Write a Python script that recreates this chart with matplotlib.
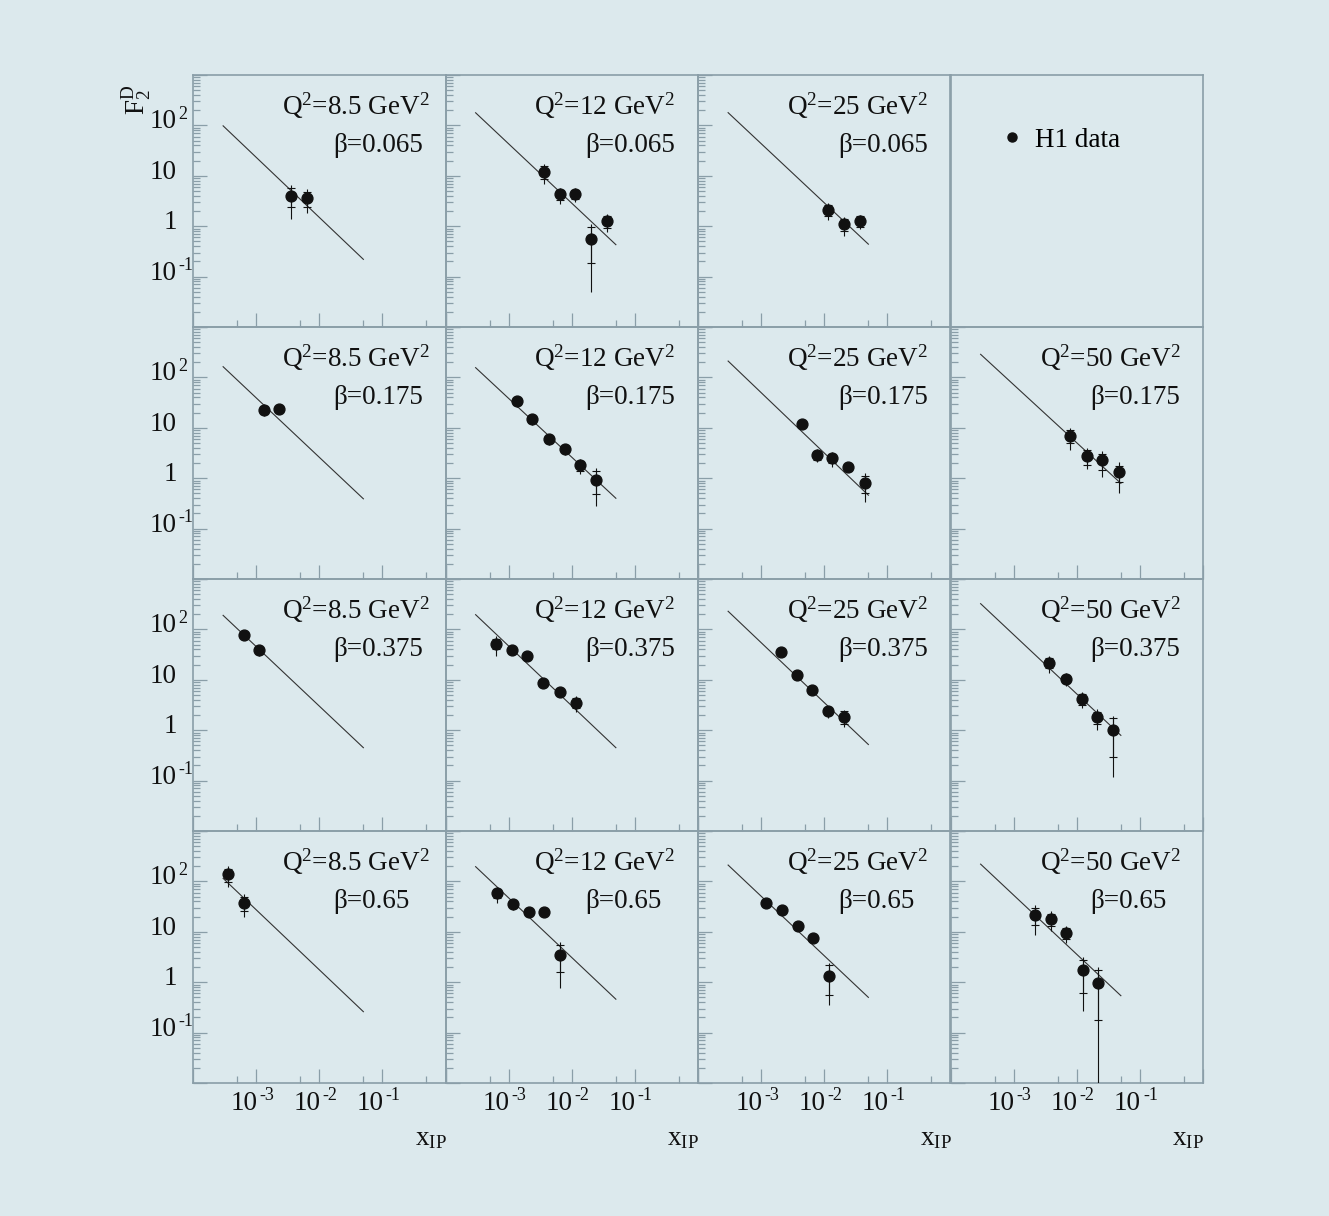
import matplotlib
matplotlib.use('Agg')
import matplotlib.pyplot as plt
from matplotlib.ticker import FixedLocator, LogLocator, NullFormatter
from matplotlib.transforms import ScaledTranslation, blended_transform_factory
from matplotlib.lines import Line2D

plt.rcParams['font.family'] = ['Liberation Serif', 'DejaVu Serif']
plt.rcParams['mathtext.fontset'] = 'custom'
plt.rcParams['mathtext.rm'] = 'Liberation Serif'
plt.rcParams['mathtext.it'] = 'Liberation Serif:italic'

# panel grid: rows = beta, columns = Q^2
q2_text = ['8.5', '12', '25', '50']
beta_text = ['0.065', '0.175', '0.375', '0.65']

# x_IP range of the fitted line
line_x = [3e-4, 5e-2]
# fit value at the two ends, one entry per Q^2 column
line_lo_065 = [98, 178, 179]
line_hi_065 = [0.22, 0.43, 0.44]
line_lo_175 = [163, 156, 211, 287]
line_hi_175 = [0.39, 0.40, 0.46, 0.79]
line_lo_375 = [190, 196, 229, 324]
line_hi_375 = [0.45, 0.45, 0.52, 0.79]
line_lo_650 = [115, 196, 211, 220]
line_hi_650 = [0.26, 0.46, 0.50, 0.54]

# H1 points: x_IP, F2D(3), stat error, total error
# beta = 0.065
x_065_85 = [3.6e-3, 6.4e-3]
f2_065_85 = [4.0, 3.6]
st_065_85 = [1.6, 1.2]
tot_065_85 = [2.6, 1.8]

x_065_12 = [3.63e-3, 6.46e-3, 1.12e-2, 2.04e-2, 3.63e-2]
f2_065_12 = [12.0, 4.3, 4.3, 0.57, 1.27]
st_065_12 = [3.5, 1.0, 0.9, 0.38, 0.35]
tot_065_12 = [5.0, 1.5, 1.3, 0.52, 0.5]

x_065_25 = [1.15e-2, 2.04e-2, 3.7e-2]
f2_065_25 = [2.1, 1.09, 1.27]
st_065_25 = [0.5, 0.3, 0.3]
tot_065_25 = [0.75, 0.45, 0.4]

# beta = 0.175
x_175_85 = [1.35e-3, 2.34e-3]
f2_175_85 = [23, 23.5]
st_175_85 = [4, 3]
tot_175_85 = [6, 4]

x_175_12 = [1.35e-3, 2.34e-3, 4.3e-3, 7.7e-3, 1.36e-2, 2.42e-2]
f2_175_12 = [33.5, 15, 6.0, 3.85, 1.8, 0.93]
st_175_12 = [5, 2.5, 1.0, 0.6, 0.4, 0.45]
tot_175_12 = [7.5, 3.5, 1.5, 0.9, 0.6, 0.65]

x_175_25 = [4.4e-3, 7.8e-3, 1.34e-2, 2.42e-2, 4.4e-2]
f2_175_25 = [12, 2.9, 2.5, 1.67, 0.81]
st_175_25 = [1.5, 0.6, 0.5, 0.25, 0.3]
tot_175_25 = [2.0, 0.85, 0.8, 0.35, 0.47]

x_175_50 = [7.9e-3, 1.43e-2, 2.5e-2, 4.6e-2]
f2_175_50 = [6.9, 2.75, 2.27, 1.31]
st_175_50 = [2, 0.9, 0.8, 0.45]
tot_175_50 = [3.2, 1.2, 1.2, 0.8]

# beta = 0.375
x_375_85 = [6.46e-4, 1.12e-3]
f2_375_85 = [78.5, 38.5]
st_375_85 = [10, 6]
tot_375_85 = [15, 9]

x_375_12 = [6.4e-4, 1.13e-3, 1.98e-3, 3.5e-3, 6.4e-3, 1.15e-2]
f2_375_12 = [52, 38.5, 29.7, 8.8, 5.7, 3.5]
st_375_12 = [12, 4, 3, 1.3, 0.8, 0.8]
tot_375_12 = [22, 6, 4, 2.0, 1.0, 1.2]

x_375_25 = [2.06e-3, 3.69e-3, 6.5e-3, 1.15e-2, 2.06e-2]
f2_375_25 = [35.6, 12.6, 6.2, 2.37, 1.85]
st_375_25 = [3, 1.0, 0.5, 0.4, 0.5]
tot_375_25 = [4, 1.5, 0.8, 0.6, 0.7]

x_375_50 = [3.63e-3, 6.7e-3, 1.19e-2, 2.1e-2, 3.77e-2]
f2_375_50 = [21.8, 10.5, 4.2, 1.83, 1.02]
st_375_50 = [5, 2, 1, 0.5, 0.72]
tot_375_50 = [8, 3, 1.4, 0.8, 0.9]

# beta = 0.65
x_650_85 = [3.63e-4, 6.5e-4]
f2_650_85 = [138, 37.8]
st_650_85 = [40, 12]
tot_650_85 = [62, 18]

x_650_12 = [6.5e-4, 1.17e-3, 2.07e-3, 3.63e-3, 6.5e-3]
f2_650_12 = [58, 35.6, 25, 25, 3.47]
st_650_12 = [12, 5, 3, 2, 1.9]
tot_650_12 = [21, 8, 4, 3, 2.7]

x_650_25 = [1.2e-3, 2.13e-3, 3.77e-3, 6.7e-3, 1.2e-2]
f2_650_25 = [37.8, 27, 13, 7.6, 1.35]
st_650_25 = [3, 3, 1.5, 0.9, 0.8]
tot_650_25 = [5, 4, 2, 1.2, 1.0]

x_650_50 = [2.18e-3, 3.86e-3, 6.87e-3, 1.24e-2, 2.21e-2]
f2_650_50 = [21.5, 18, 9.6, 1.72, 0.98]
st_650_50 = [8, 5, 2.5, 1.1, 0.8]
tot_650_50 = [13, 7.5, 3.7, 1.45, 1.0]

points = [
    [(x_065_85, f2_065_85, st_065_85, tot_065_85),
     (x_065_12, f2_065_12, st_065_12, tot_065_12),
     (x_065_25, f2_065_25, st_065_25, tot_065_25),
     None],
    [(x_175_85, f2_175_85, st_175_85, tot_175_85),
     (x_175_12, f2_175_12, st_175_12, tot_175_12),
     (x_175_25, f2_175_25, st_175_25, tot_175_25),
     (x_175_50, f2_175_50, st_175_50, tot_175_50)],
    [(x_375_85, f2_375_85, st_375_85, tot_375_85),
     (x_375_12, f2_375_12, st_375_12, tot_375_12),
     (x_375_25, f2_375_25, st_375_25, tot_375_25),
     (x_375_50, f2_375_50, st_375_50, tot_375_50)],
    [(x_650_85, f2_650_85, st_650_85, tot_650_85),
     (x_650_12, f2_650_12, st_650_12, tot_650_12),
     (x_650_25, f2_650_25, st_650_25, tot_650_25),
     (x_650_50, f2_650_50, st_650_50, tot_650_50)],
]
line_lo = [line_lo_065, line_lo_175, line_lo_375, line_lo_650]
line_hi = [line_hi_065, line_hi_175, line_hi_375, line_hi_650]

# y tick labels: (value, base, superscript)
ylabels = [(1e-1, '10', '-1'), (1, '1', ''), (10, '10', ''), (100, '10', '2')]
xlabels = [(1e-3, '10', '-3'), (1e-2, '10', '-2'), (1e-1, '10', '-1')]

bg = '#dce9ed'
frame_c = '#8a9ea8'
ink = '#111111'

W, H = 1329, 1216
fig = plt.figure(figsize=(W / 100, H / 100), dpi=100, facecolor=bg)

col_left = [193, 445.5, 698, 950.5]
row_top = [75, 327, 579, 831]
pw, ph = 252.5, 252


def off(dx, dy):
    # shift in pixels (figure is 100 dpi)
    return ScaledTranslation(dx / 100, dy / 100, fig.dpi_scale_trans)


for r in range(4):
    for c in range(4):
        ax = fig.add_axes([col_left[c] / W, 1 - (row_top[r] + ph) / H, pw / W, ph / H])
        ax.set_facecolor('none')
        for s in ax.spines.values():
            s.set_color(frame_c)
            s.set_linewidth(1.2)

        if points[r][c] is None:
            # empty box holding the legend
            ax.set_xticks([])
            ax.set_yticks([])
            h = Line2D([], [], marker='o', ls='none', color=ink, markersize=6.5)
            ax.legend([h], ['H1 data'], loc='center left', bbox_to_anchor=(0.2, 0.742),
                      frameon=False, handlelength=0.8, handletextpad=0.45,
                      borderpad=0, borderaxespad=0, fontsize=19.5)
            continue

        ax.set_xscale('log')
        ax.set_yscale('log')
        ax.set_xlim(1e-4, 1)
        ax.set_ylim(1e-2, 1e3)
        ax.xaxis.set_major_locator(FixedLocator([1e-4, 1e-3, 1e-2, 1e-1, 1]))
        ax.xaxis.set_minor_locator(FixedLocator([5e-4, 5e-3, 5e-2, 5e-1]))
        ax.yaxis.set_major_locator(LogLocator(base=10, numticks=10))
        ax.yaxis.set_minor_locator(LogLocator(base=10, subs=range(2, 10), numticks=10))
        for axis in (ax.xaxis, ax.yaxis):
            axis.set_major_formatter(NullFormatter())
            axis.set_minor_formatter(NullFormatter())
        ax.tick_params(which='both', direction='in', top=False, right=False,
                       color=frame_c, width=0.9)
        ax.tick_params(which='major', length=10)
        ax.tick_params(which='minor', length=5)

        # fitted power law
        ax.plot(line_x, [line_lo[r][c], line_hi[r][c]], color='#333333', lw=0.8, zorder=2)

        xs, f2, st, tot = points[r][c]
        ax.errorbar(xs, f2, yerr=tot, fmt='none', ecolor=ink, elinewidth=0.8, zorder=3)
        ax.errorbar(xs, f2, yerr=st, fmt='none', ecolor=ink, elinewidth=0.8,
                    capsize=3, capthick=0.8, zorder=3)
        ax.plot(xs, f2, 'o', color=ink, markersize=7.8, zorder=4)

        ax.text(0, 1, 'Q$^2$=' + q2_text[c] + ' GeV$^2$', transform=ax.transAxes + off(89, -40),
                ha='left', va='baseline', fontsize=19.5, color=ink)
        ax.text(0, 1, 'β=' + beta_text[r], transform=ax.transAxes + off(140, -76.5),
                ha='left', va='baseline', fontsize=19.5, color=ink)

        # ROOT style labels: mantissa right of the tick, exponent hanging past it
        if c == 0:
            tr = blended_transform_factory(ax.transAxes, ax.transData)
            for val, base, sup in ylabels:
                ax.text(0, val, base, transform=tr + off(-16, 3.5), ha='right', va='center',
                        fontsize=19.5, color=ink)
                if sup:
                    ax.text(0, val, sup, transform=tr + off(-15, 11), ha='left', va='center',
                            fontsize=13, color=ink)
        if r == 3:
            tr = blended_transform_factory(ax.transData, ax.transAxes)
            for val, base, sup in xlabels:
                ax.text(val, 0, base, transform=tr + off(1, -21), ha='right', va='center',
                        fontsize=19.5, color=ink)
                ax.text(val, 0, sup, transform=tr + off(3, -12), ha='left', va='center',
                        fontsize=13, color=ink)
            ax.text(1, 0, r'x$_{\rm IP}$', transform=ax.transAxes + off(1, -62),
                    ha='right', va='baseline', fontsize=19.5, color=ink)

fig.text(137 / W, 1 - 100 / H, r'$\mathrm{F}_2^\mathrm{D}$', rotation=90,
         ha='center', va='center', fontsize=19.5, color=ink)

fig.savefig('out.png', dpi=100, facecolor=bg)
